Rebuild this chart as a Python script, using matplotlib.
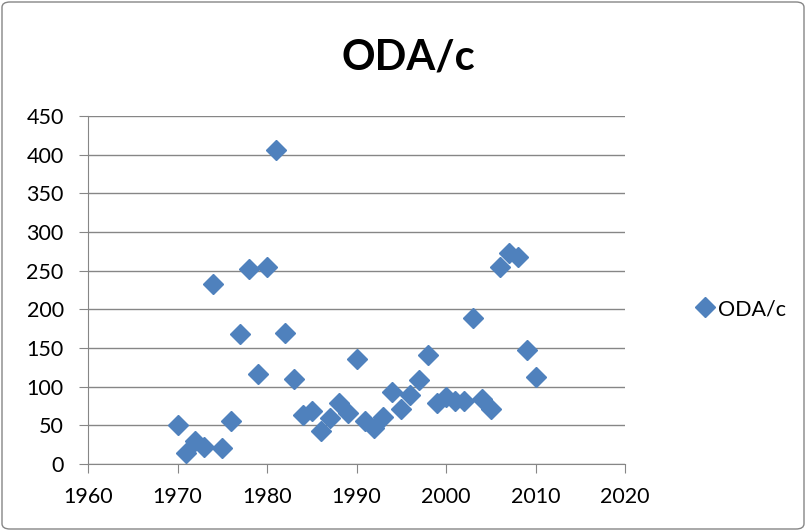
import matplotlib
matplotlib.use("Agg")
import matplotlib.pyplot as plt
from matplotlib.patches import FancyBboxPatch

plt.rcParams['font.family'] = ['Lato', 'DejaVu Sans']

years = [1970, 1971, 1972, 1973, 1974, 1975, 1976, 1977, 1978, 1979,
         1980, 1981, 1982, 1983, 1984, 1985, 1986, 1987, 1988, 1989,
         1990, 1991, 1992, 1993, 1994, 1995, 1996, 1997, 1998, 1999,
         2000, 2001, 2002, 2003, 2004, 2005, 2006, 2007, 2008, 2009, 2010]
oda = [50, 14, 30, 22, 233, 21, 56, 168, 252, 117,
       255, 406, 170, 110, 64, 68, 43, 60, 79, 66,
       136, 56, 46, 61, 93, 71, 89, 108, 141, 79,
       86, 82, 82, 189, 84, 71, 255, 273, 268, 148, 113]
xticks = [1960, 1970, 1980, 1990, 2000, 2010, 2020]
yticks = [0, 50, 100, 150, 200, 250, 300, 350, 400, 450]

fig = plt.figure(figsize=(8.06, 5.31), dpi=100)
ax = fig.add_axes([88/806, 1 - 464/531, (625-88)/806, (464-116)/531])

ax.plot(years, oda, linestyle='none', marker='D', markersize=10,
        color='#4F81BD', label='ODA/c')

ax.set_xlim(1960, 2020)
ax.set_ylim(0, 450)
ax.set_xticks(xticks)
ax.set_yticks(yticks)
ax.tick_params(labelsize=15.5, length=6.5, color='#868686', direction='out')
ax.tick_params(axis='y', pad=11)
ax.tick_params(axis='x', pad=10)
ax.yaxis.grid(True, color='#868686', linewidth=1)
ax.set_axisbelow(True)
for s in ['top', 'right']:
    ax.spines[s].set_visible(False)
for s in ['left', 'bottom']:
    ax.spines[s].set_color('#868686')

fig.text(408/806, 1 - 57/531, 'ODA/c', ha='center', va='center',
         fontsize=30, fontweight='bold')

fig.legend(loc='center left', bbox_to_anchor=(686/806, 1 - 309/531),
           frameon=False, fontsize=15.5, handletextpad=0.1, borderaxespad=0,
           markerscale=1.0, handlelength=1.0)

fig.patches.append(FancyBboxPatch((2/806, 2/531), 802/806, 527/531,
                                  boxstyle='round,pad=0,rounding_size=0.01',
                                  transform=fig.transFigure, fill=False,
                                  edgecolor='#868686', linewidth=1))

fig.savefig('out.png', dpi=100)
